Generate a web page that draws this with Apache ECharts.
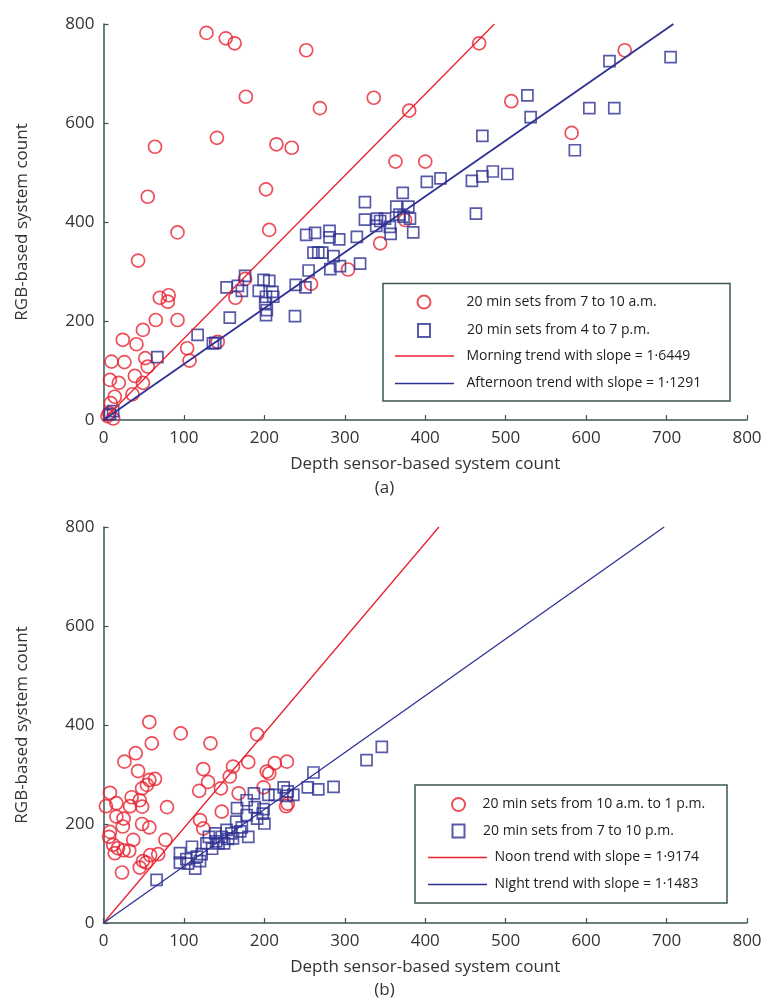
<!DOCTYPE html>
<html>
<head>
<meta charset="utf-8">
<script src="https://cdn.jsdelivr.net/npm/echarts@6/dist/echarts.min.js"></script>
<style>
    html, body { margin: 0; padding: 0; background: #fff; }
    #chart { width: 769px; height: 1004px; }
</style>
</head>
<body>
<div id="chart"></div>
<script>
    // (a) morning / afternoon
    var morningPoints = [
        [128, 782], [152, 771], [163, 761], [252, 747], [177, 653], [269, 630], [336, 651], [380, 625],
        [64, 552], [141, 570], [215, 557], [234, 550], [363, 522], [400, 522], [55, 451], [202, 466],
        [92, 379], [206, 384], [43, 322], [70, 247], [81, 252], [80, 239], [65, 202], [92, 202],
        [24, 162], [49, 182], [41, 153], [10, 118], [26, 117], [52, 125], [55, 108], [8, 81],
        [19, 75], [39, 89], [49, 75], [36, 52], [14, 47], [9, 34], [7, 14], [12, 3], [5, 8],
        [104, 145], [107, 120], [142, 158], [164, 247], [176, 285], [258, 275], [304, 304], [344, 357],
        [375, 404], [467, 761], [507, 644], [648, 747], [582, 580]
    ];
    var afternoonPoints = [
        [67, 127], [117, 172], [136, 155], [139, 156], [157, 207], [153, 268], [167, 271], [172, 261],
        [176, 291], [193, 261], [199, 283], [206, 281], [210, 259], [211, 249], [202, 249], [201, 236],
        [202, 212], [203, 222], [238, 210], [239, 273], [251, 268], [255, 302], [252, 374], [263, 378],
        [261, 338], [267, 338], [272, 338], [281, 382], [281, 369], [293, 365], [286, 331], [282, 305],
        [294, 311], [315, 370], [319, 316], [325, 405], [325, 440], [340, 407], [350, 407], [339, 392],
        [356, 390], [357, 376], [364, 431], [373, 411], [379, 431], [381, 407], [385, 379], [368, 415],
        [344, 402], [372, 459], [402, 481], [419, 488], [458, 483], [471, 492], [484, 502], [502, 497],
        [463, 417], [471, 574], [527, 656], [531, 612], [629, 725], [705, 733], [604, 630], [635, 630],
        [586, 545], [8, 12], [12, 18]
    ];
    var morningTrend = [[0, 0], [486, 800]];
    var afternoonTrend = [[0, 0], [708.5, 800]];

    // (b) noon / night
    var noonPoints = [
        [57, 406], [96, 383], [60, 363], [133, 363], [191, 381], [40, 343], [26, 326], [43, 307],
        [124, 311], [161, 316], [180, 325], [203, 306], [157, 296], [130, 285], [57, 289], [64, 291],
        [54, 279], [48, 272], [146, 272], [119, 267], [8, 263], [168, 262], [35, 254], [45, 248],
        [16, 242], [3, 236], [33, 236], [48, 235], [79, 234], [16, 215], [25, 211], [48, 200],
        [57, 193], [24, 195], [8, 184], [7, 174], [37, 168], [77, 168], [120, 208], [147, 225],
        [124, 191], [12, 158], [18, 151], [25, 147], [32, 146], [14, 141], [58, 137], [68, 139],
        [49, 125], [53, 122], [45, 112], [23, 102], [213, 323], [228, 326], [206, 302], [199, 274],
        [227, 236], [229, 241]
    ];
    var nightPoints = [
        [66, 87], [95, 141], [95, 122], [103, 129], [110, 154], [114, 110], [116, 134], [122, 139],
        [128, 161], [131, 174], [139, 181], [143, 161], [147, 174], [153, 188], [150, 161], [161, 171],
        [159, 181], [166, 232], [172, 193], [178, 248], [178, 218], [187, 262], [188, 234], [191, 211],
        [199, 230], [200, 201], [180, 174], [346, 356], [327, 329], [261, 304], [254, 274], [267, 270],
        [286, 275], [224, 274], [229, 266], [236, 259], [228, 257], [213, 259], [205, 259], [198, 221],
        [135, 150], [140, 165], [155, 170], [170, 185], [120, 125], [105, 120], [165, 205]
    ];
    var noonTrend = [[0, 0], [417, 800]];
    var nightTrend = [[0, 0], [697, 800]];

    var xTicks = [0, 100, 200, 300, 400, 500, 600, 700, 800];
    var yTicks = [0, 200, 400, 600, 800];

    var names = [
        '20 min sets from 7 to 10 a.m.', '20 min sets from 4 to 7 p.m.',
        'Morning trend with slope = 1·6449', 'Afternoon trend with slope = 1·1291',
        '20 min sets from 10 a.m. to 1 p.m.', '20 min sets from 7 to 10 p.m.',
        'Noon trend with slope = 1·9174', 'Night trend with slope = 1·1483'
    ];

    var RED = '#e8222f';
    var BLUE = '#2e3192';
    var AXIS = '#3b5656';
    var FONT = '"Open Sans", "Noto Sans", sans-serif';

    function xAxis (grid) {
        return {
            type: 'value', gridIndex: grid, min: xTicks[0], max: xTicks[xTicks.length - 1], interval: 100,
            name: 'Depth sensor-based system count', nameLocation: 'middle', nameGap: 36,
            nameTextStyle: { fontSize: 17, color: '#333', fontFamily: FONT },
            axisLine: { lineStyle: { color: AXIS, width: 1.5 } },
            axisTick: { inside: true, length: 5, lineStyle: { color: AXIS, width: 1.2 } },
            axisLabel: { fontSize: 17, color: '#333', fontFamily: FONT, margin: 10 },
            splitLine: { show: false }
        };
    }
    function yAxis (grid) {
        return {
            type: 'value', gridIndex: grid, min: yTicks[0], max: yTicks[yTicks.length - 1], interval: 200,
            name: 'RGB-based system count', nameLocation: 'middle', nameGap: 73,
            nameTextStyle: { fontSize: 17, color: '#333', fontFamily: FONT },
            axisLine: { show: true, lineStyle: { color: AXIS, width: 1.5 } },
            axisTick: { show: true, inside: true, length: 5, lineStyle: { color: AXIS, width: 1.2 } },
            axisLabel: { fontSize: 17, color: '#333', fontFamily: FONT, margin: 9 },
            splitLine: { show: false }
        };
    }
    function scatter (name, grid, data, symbol, color, size) {
        return {
            name: name, type: 'scatter', xAxisIndex: grid, yAxisIndex: grid, data: data,
            symbol: symbol, symbolSize: size,
            itemStyle: { color: 'rgba(0,0,0,0)', borderColor: color, borderWidth: 1.7 }
        };
    }
    function trend (name, grid, data, color, width) {
        return {
            name: name, type: 'line', xAxisIndex: grid, yAxisIndex: grid, data: data,
            symbol: 'none', lineStyle: { color: color, width: width }, itemStyle: { color: color }
        };
    }
    function legend (name, left, top, w, pad, icon) {
        var l = {
            data: [name], left: left, top: top, padding: 0, itemWidth: w, itemHeight: 13,
            selectedMode: false,
            textStyle: { fontSize: 14, color: '#222', fontFamily: FONT, padding: [0, 0, 0, pad] }
        };
        if (icon) {
            l.icon = icon;
        }
        return l;
    }
    var lineIcon = 'path://M0,0H59V1.6H0Z';

    var chart = echarts.init(document.getElementById('chart'));
    var option = {
        animation: false,
        backgroundColor: '#fff',
        title: [
            { text: '(a)', left: 'center', top: 480, padding: 0, textStyle: { fontSize: 17, fontWeight: 'normal', color: '#333', fontFamily: FONT } },
            { text: '(b)', left: 'center', top: 982, padding: 0, textStyle: { fontSize: 17, fontWeight: 'normal', color: '#333', fontFamily: FONT } }
        ],
        grid: [
            { left: 103.5, right: 22, top: 24, height: 396 },
            { left: 103.5, right: 22, top: 527, height: 396 }
        ],
        xAxis: [xAxis(0), xAxis(1)],
        yAxis: [yAxis(0), yAxis(1)],
        legend: [
            legend(names[0], 416.5, 294.5, 13, 31),
            legend(names[1], 417, 323, 12, 32),
            legend(names[2], 395, 349, 59, 7.5, lineIcon),
            legend(names[3], 395, 376.5, 59, 7.5, lineIcon),
            legend(names[4], 451, 797, 13, 12.5),
            legend(names[5], 451.5, 823.5, 12, 13.5),
            legend(names[6], 428, 850.5, 59, 2.5, lineIcon),
            legend(names[7], 428, 877.5, 59, 2.5, lineIcon)
        ],
        graphic: [
            { type: 'rect', shape: { x: 383, y: 283.5, width: 347, height: 117.5 }, style: { fill: 'none', stroke: AXIS, lineWidth: 1.5 }, z: 100 },
            { type: 'rect', shape: { x: 415, y: 785, width: 312, height: 118 }, style: { fill: 'none', stroke: AXIS, lineWidth: 1.5 }, z: 100 }
        ],
        series: [
            scatter(names[0], 0, morningPoints, 'circle', RED, 13),
            scatter(names[1], 0, afternoonPoints, 'rect', BLUE, 11),
            trend(names[2], 0, morningTrend, RED, 1.3),
            trend(names[3], 0, afternoonTrend, BLUE, 1.8),
            scatter(names[4], 1, noonPoints, 'circle', RED, 13),
            scatter(names[5], 1, nightPoints, 'rect', BLUE, 11),
            trend(names[6], 1, noonTrend, RED, 1.3),
            trend(names[7], 1, nightTrend, BLUE, 1.3)
        ]
    };
    chart.setOption(option);
</script>
</body>
</html>
